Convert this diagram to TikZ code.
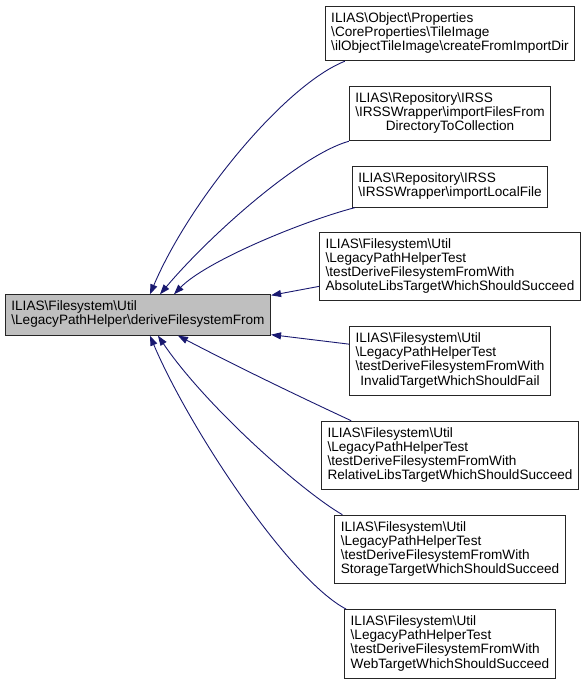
\documentclass[tikz,border=0pt]{standalone}
\usepackage{fontspec}
\setmainfont{Liberation Sans}
\usetikzlibrary{arrows.meta}

\definecolor{midnight}{RGB}{25,25,112}
\newcommand{\bs}{\textbackslash}
\newcommand{\lbl}[1]{\begin{tabular}{@{}l@{}}#1\end{tabular}}
\newcommand{\ctr}[1]{\multicolumn{1}{@{}c@{}}{#1}}

\tikzset{
    fnbox/.style={draw=black!85, line width=0.9pt, fill=white,
        inner xsep=6pt, inner ysep=6pt,
        font=\fontsize{13.6}{14.2}\selectfont},
    mainbox/.style={fnbox, fill=black!25},
    call/.style={draw=midnight, line width=0.9pt,
        -{Triangle[length=10pt,width=7pt]}}
}

\begin{document}
\begin{tikzpicture}[x=1pt,y=-1pt]
            \useasboundingbox (0,0) rectangle (588,686);

            % Called function
            \node[mainbox] (main) at (138,315)
                {\lbl{ILIAS\bs Filesystem\bs Util\\\bs LegacyPathHelper\bs deriveFilesystemFrom}};

            % Callers
            \node[fnbox] (tileimg) at (450,33.5)
                {\lbl{ILIAS\bs Object\bs Properties\\\bs CoreProperties\bs TileImage\\\bs ilObjectTileImage\bs createFromImportDir}};
            \node[fnbox] (irssdir) at (450,113.5)
                {\lbl{ILIAS\bs Repository\bs IRSS\\\bs IRSSWrapper\bs importFilesFrom\\\ctr{DirectoryToCollection}}};
            \node[fnbox] (irsslocal) at (450,187)
                {\lbl{ILIAS\bs Repository\bs IRSS\\\bs IRSSWrapper\bs importLocalFile}};
            \node[fnbox] (testabs) at (450,266.5)
                {\lbl{ILIAS\bs Filesystem\bs Util\\\bs LegacyPathHelperTest\\\bs testDeriveFilesystemFromWith\\AbsoluteLibsTargetWhichShouldSucceed}};
            \node[fnbox] (testinvalid) at (450,361)
                {\lbl{ILIAS\bs Filesystem\bs Util\\\bs LegacyPathHelperTest\\\bs testDeriveFilesystemFromWith\\\ctr{InvalidTargetWhichShouldFail}}};
            \node[fnbox] (testrel) at (450,455.5)
                {\lbl{ILIAS\bs Filesystem\bs Util\\\bs LegacyPathHelperTest\\\bs testDeriveFilesystemFromWith\\RelativeLibsTargetWhichShouldSucceed}};
            \node[fnbox] (teststorage) at (450,549.5)
                {\lbl{ILIAS\bs Filesystem\bs Util\\\bs LegacyPathHelperTest\\\bs testDeriveFilesystemFromWith\\StorageTargetWhichShouldSucceed}};
            \node[fnbox] (testweb) at (450,644)
                {\lbl{ILIAS\bs Filesystem\bs Util\\\bs LegacyPathHelperTest\\\bs testDeriveFilesystemFromWith\\WebTargetWhichShouldSucceed}};

            % Calls from above
            \draw[call] ([xshift=20pt]tileimg.south west)
                .. controls (285,85) and (190,200) .. ([xshift=145pt]main.north west);
            \draw[call] (irssdir.south west)
                .. controls (300,155) and (210,235) .. ([xshift=155pt]main.north west);
            \draw[call] ([xshift=3pt]irsslocal.south west)
                .. controls (300,222) and (205,262) .. ([xshift=169pt]main.north west);
            \draw[call] ([yshift=15pt]testabs.south west) -- ([yshift=-1pt]main.north east);

            % Calls from below
            \draw[call] ([yshift=-18pt]testinvalid.north west) -- ([yshift=1pt]main.south east);
            \draw[call] ([xshift=30pt]testrel.north west)
                .. controls (296,395) and (236,366) .. ([xshift=173pt]main.south west);
            \draw[call] ([xshift=8pt]teststorage.north west)
                .. controls (300,490) and (205,405) .. ([xshift=153pt]main.south west);
            \draw[call] ([xshift=2pt]testweb.north west)
                .. controls (290,580) and (190,430) .. ([xshift=145pt]main.south west);

\end{tikzpicture}
\end{document}
